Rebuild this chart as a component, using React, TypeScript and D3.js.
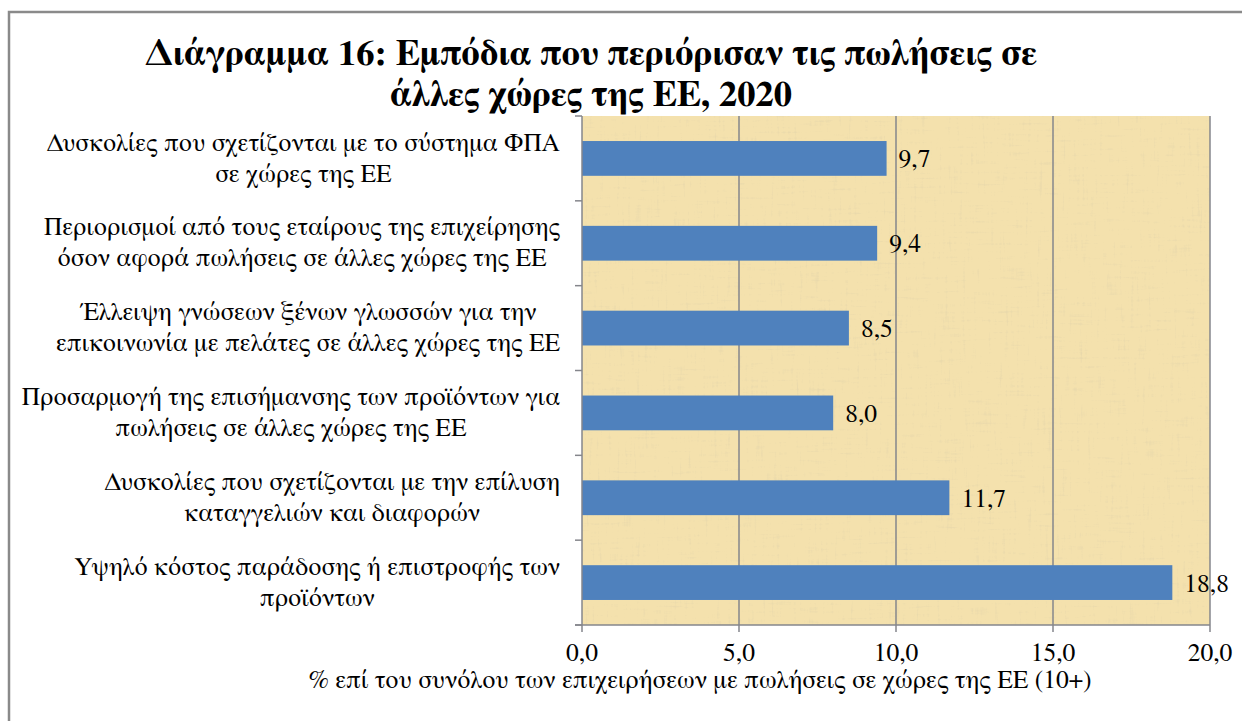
import * as d3 from "d3";

const categories: string[][] = [
  ["Δυσκολίες που σχετίζονται με το σύστημα ΦΠΑ", "σε χώρες της ΕΕ"],
  ["Περιορισμοί από τους εταίρους της επιχείρησης", "όσον αφορά πωλήσεις σε άλλες χώρες της ΕΕ"],
  ["Έλλειψη γνώσεων ξένων γλωσσών για την", "επικοινωνία με πελάτες σε άλλες χώρες της ΕΕ"],
  ["Προσαρμογή της επισήμανσης των προϊόντων για", "πωλήσεις σε άλλες χώρες της ΕΕ"],
  ["Δυσκολίες που σχετίζονται με την επίλυση", "καταγγελιών και διαφορών"],
  ["Υψηλό κόστος παράδοσης ή επιστροφής των", "προϊόντων"],
];
const values: number[] = [9.7, 9.4, 8.5, 8.0, 11.7, 18.8];
const xTicks: number[] = [0, 5, 10, 15, 20];
const titleLines: string[] = [
  "Διάγραμμα 16: Εμπόδια που περιόρισαν τις πωλήσεις σε",
  "άλλες χώρες της ΕΕ, 2020",
];
const axisTitle = "% επί του συνόλου των επιχειρήσεων με πωλήσεις σε χώρες της ΕΕ (10+)";

const W = 1242;
const H = 721;
const FONT = `"FreeSerif", "Liberation Serif", serif`;
const plot = { left: 582, right: 1210, top: 116, bottom: 625 };

const fmt = (v: number) => v.toFixed(1).replace(".", ",");

let ctx: CanvasRenderingContext2D | null = null;
const measure = (s: string, size: number) => {
  if (!ctx) ctx = document.createElement("canvas").getContext("2d");
  if (!ctx) return s.length * size * 0.5;
  ctx.font = `${size}px ${FONT}`;
  return ctx.measureText(s).width;
};

const App = () => {
  const x = d3.scaleLinear().domain([0, 20]).range([plot.left, plot.right]);
  const y = d3
    .scaleBand<number>()
    .domain(d3.range(categories.length))
    .range([plot.top, plot.bottom])
    .paddingInner(0.59)
    .paddingOuter(0.295);
  const band = (plot.bottom - plot.top) / categories.length;
  const gridColor = "#85868c";
  const labelSize = 25.5;

  return (
    <svg
      width={W}
      height={H}
      viewBox={`0 0 ${W} ${H}`}
      style={{ position: "absolute", left: 0, top: 0, background: "#fff", fontFamily: FONT }}
    >
      <defs>
        <filter id="papyrus" x="0" y="0" width="100%" height="100%">
          <feTurbulence type="fractalNoise" baseFrequency="0.35 0.03" numOctaves="3" seed="3" result="h" />
          <feTurbulence type="fractalNoise" baseFrequency="0.03 0.35" numOctaves="3" seed="9" result="v" />
          <feBlend in="h" in2="v" mode="multiply" result="n" />
          <feColorMatrix
            in="n"
            type="matrix"
            values="0 0 0 0 0.74  0 0 0 0 0.64  0 0 0 0 0.40  -3 0 0 0 1.05"
          />
        </filter>
      </defs>

      <rect x={9} y={12} width={W + 10} height={H + 10} fill="#fff" stroke="#8a8a8a" strokeWidth={2.5} />

      {titleLines.map((t, i) => (
        <text
          key={i}
          x={591}
          y={65 + i * 41}
          textAnchor="middle"
          fontSize={36.5}
          fontWeight="bold"
          fill="#000"
        >
          {t}
        </text>
      ))}

      <rect
        x={plot.left}
        y={plot.top}
        width={plot.right - plot.left}
        height={plot.bottom - plot.top}
        fill="#f4e1ad"
      />
      <rect
        x={plot.left}
        y={plot.top}
        width={plot.right - plot.left}
        height={plot.bottom - plot.top}
        fill="#000"
        filter="url(#papyrus)"
        opacity={0.7}
      />

      {xTicks.slice(1).map((t) => (
        <line key={t} x1={x(t)} x2={x(t)} y1={plot.top} y2={plot.bottom} stroke={gridColor} strokeWidth={1.5} />
      ))}

      {values.map((v, i) => (
        <g key={i}>
          <rect x={x(0)} y={y(i)} width={x(v) - x(0)} height={y.bandwidth()} fill="#4f81bd" />
          <text
            x={x(v) + 12}
            y={(y(i) as number) + y.bandwidth() / 2}
            dy="0.35em"
            fontSize={labelSize}
            fill="#000"
          >
            {fmt(v)}
          </text>
        </g>
      ))}

      <line x1={plot.left} x2={plot.left} y1={plot.top} y2={plot.bottom} stroke={gridColor} strokeWidth={1.5} />
      {d3.range(categories.length + 1).map((i) => (
        <line
          key={i}
          x1={plot.left - 7}
          x2={plot.left}
          y1={plot.top + i * band}
          y2={plot.top + i * band}
          stroke={gridColor}
          strokeWidth={1.5}
        />
      ))}
      <line x1={plot.left - 7} x2={plot.right} y1={plot.bottom} y2={plot.bottom} stroke={gridColor} strokeWidth={1.5} />
      {xTicks.map((t) => (
        <g key={t}>
          <line x1={x(t)} x2={x(t)} y1={plot.bottom} y2={plot.bottom + 7} stroke={gridColor} strokeWidth={1.5} />
          <text x={x(t)} y={661} textAnchor="middle" fontSize={labelSize} fill="#000">
            {fmt(t)}
          </text>
        </g>
      ))}

      {categories.map((lines, i) => {
        const maxW = d3.max(lines, (l) => measure(l, labelSize)) ?? 0;
        const cx = plot.left - 22 - maxW / 2;
        const cy = plot.top + (i + 0.5) * band;
        const lh = 31;
        const y0 = cy - ((lines.length - 1) * lh) / 2;
        return (
          <text key={i} textAnchor="middle" fontSize={labelSize} fill="#000">
            {lines.map((l, j) => (
              <tspan key={j} x={cx} y={y0 + j * lh} dy="0.3em">
                {l}
              </tspan>
            ))}
          </text>
        );
      })}

      <text x={700} y={688} textAnchor="middle" fontSize={labelSize} fill="#000">
        {axisTitle}
      </text>
    </svg>
  );
};

export default App;
